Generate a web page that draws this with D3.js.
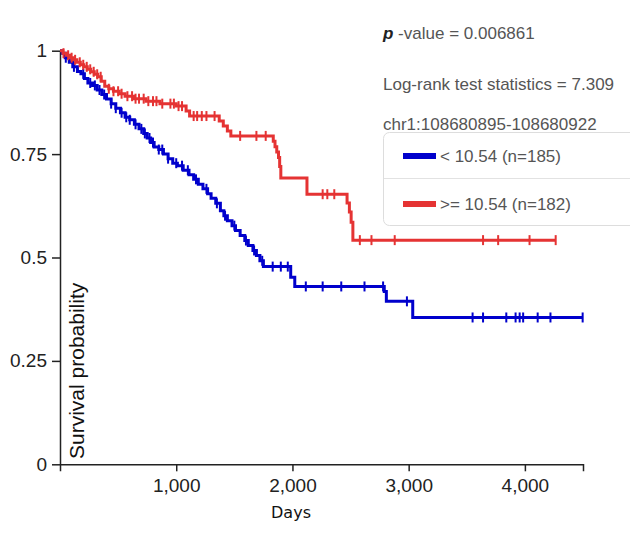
<!DOCTYPE html>
<html>
<head>
<meta charset="utf-8">
<script src="https://cdn.jsdelivr.net/npm/d3@7"></script>
<style>
  html, body { margin: 0; padding: 0; background: #fff; }
  svg { display: block; }
</style>
</head>
<body>
<svg id="chart" width="630" height="552"></svg>
<script>
// ---- data ----
const xTicks = [1000, 2000, 3000, 4000];
const yTicks = [0, 0.25, 0.5, 0.75, 1];

const lowLabel = "< 10.54 (n=185)";
const highLabel = ">= 10.54 (n=182)";

// [days, survival] step points, group "< 10.54"
const lowSteps = [
  [0, 1], [20, .994], [45, .983], [80, .972], [110, .961], [150, .95], [180, .944],
  [210, .933], [240, .922], [280, .916], [320, .905], [360, .894], [400, .883],
  [440, .872], [480, .861], [520, .85], [560, .839], [600, .833], [640, .822],
  [680, .811], [720, .8], [750, .789], [780, .778], [810, .767], [850, .761],
  [890, .75], [930, .739], [970, .728], [1010, .722], [1060, .711], [1110, .70],
  [1150, .689], [1190, .677], [1230, .666], [1270, .654], [1300, .643], [1340, .631],
  [1380, .613], [1410, .601], [1440, .589], [1480, .577], [1510, .565], [1550, .553],
  [1590, .541], [1620, .529], [1660, .517], [1690, .505], [1720, .492], [1750, .478],
  [1985, .452], [2020, .43], [2790, .418], [2808, .394], [3035, .355]
];
const lowEnd = 4497;
const lowCensor = [50, 120, 200, 260, 300, 340, 380, 440, 480, 530, 570, 600, 650, 700,
  730, 770, 800, 850, 880, 930, 1000, 1050, 1100, 1170, 1260, 1350, 1420, 1500, 1600,
  1670, 1740, 1830, 1900, 1960, 2115, 2260, 2420, 2620, 2780, 2985, 3550, 3640, 3840,
  3920, 3955, 3985, 4110, 4220, 4497];

// group ">= 10.54"
const highSteps = [
  [0, 1], [25, .994], [55, .989], [85, .983], [115, .978], [145, .972], [175, .966],
  [205, .961], [235, .955], [265, .949], [295, .943], [325, .937], [355, .926],
  [385, .914], [420, .908], [460, .902], [510, .896], [560, .89], [640, .884],
  [740, .878], [860, .872], [1000, .866], [1085, .854], [1115, .842], [1370, .83],
  [1405, .818], [1440, .806], [1470, .794], [1835, .781], [1850, .768], [1865, .755],
  [1880, .742], [1890, .72], [1900, .692], [2125, .653], [2470, .632], [2490, .61],
  [2505, .585], [2520, .542]
];
const highEnd = 4265;
const highCensor = [30, 70, 100, 130, 170, 200, 230, 260, 290, 320, 350, 420, 460, 500,
  530, 580, 620, 650, 680, 720, 760, 800, 830, 880, 950, 980, 1020, 1050, 1150, 1180,
  1220, 1260, 1330, 1550, 1690, 1770, 2260, 2300, 2360, 2580, 2680, 2880, 3640, 3770,
  4040, 4265];

const pText = "-value = 0.006861";
const logRankText = "Log-rank test statistics = 7.309";
const regionText = "chr1:108680895-108680922";

// ---- drawing ----
const BLUE = "#0000cc";
const RED = "#e53333";
const svg = d3.select("#chart");
const x = d3.scaleLinear().domain([0, 4500]).range([60, 583]);
const y = d3.scaleLinear().domain([0, 1]).range([464.3, 50.7]);

const font = "'Liberation Sans', Arial, sans-serif";

// axes
const xAxis = d3.axisBottom(x).tickValues(xTicks).tickFormat(d3.format(","))
  .tickSize(7).tickSizeOuter(7).tickPadding(7);
const yAxis = d3.axisLeft(y).tickValues(yTicks).tickFormat(d => String(d))
  .tickSize(8).tickSizeOuter(0).tickPadding(5);

const gx = svg.append("g").attr("transform", `translate(0,${y(0)})`).call(xAxis);
const gy = svg.append("g").attr("transform", `translate(${x(0)},0)`).call(yAxis);
[gx, gy].forEach(g => {
  g.select(".domain").attr("stroke", "#222").attr("stroke-width", 1.5);
  g.selectAll(".tick line").attr("stroke", "#222").attr("stroke-width", 1.5);
  g.selectAll(".tick text").attr("fill", "#222").style("font-family", font).style("font-size", "19px");
});

// curves
function survAt(steps, t) {
  let s = steps[0][1];
  for (const p of steps) { if (p[0] <= t) s = p[1]; }
  return s;
}
const line = d3.line().x(d => x(d[0])).y(d => y(d[1])).curve(d3.curveStepAfter);

function drawGroup(steps, end, censor, color) {
  const pts = steps.concat([[end, steps[steps.length - 1][1]]]);
  svg.append("path").datum(pts).attr("d", line)
    .attr("fill", "none").attr("stroke", color).attr("stroke-width", 3);
  svg.append("g").selectAll("line").data(censor).join("line")
    .attr("x1", d => x(d)).attr("x2", d => x(d))
    .attr("y1", d => y(survAt(steps, d)) - 5).attr("y2", d => y(survAt(steps, d)) + 5)
    .attr("stroke", color).attr("stroke-width", 2);
}
drawGroup(lowSteps, lowEnd, lowCensor, BLUE);
drawGroup(highSteps, highEnd, highCensor, RED);

// axis titles
svg.append("text").attr("transform", "translate(84,459) rotate(-90)")
  .attr("text-anchor", "start").style("font-family", font).style("font-size", "21px")
  .attr("fill", "#111").text("Survival probability");
svg.append("text").attr("x", 291).attr("y", 518).attr("text-anchor", "middle")
  .style("font-family", "'DejaVu Sans', Verdana, sans-serif").style("font-size", "16px")
  .attr("fill", "#111").text("Days");

// stats text
const t1 = svg.append("text").attr("x", 383).attr("y", 39)
  .style("font-family", font).style("font-size", "17px").attr("fill", "#555");
t1.append("tspan").attr("font-weight", "bold").attr("font-style", "italic").attr("fill", "#222").text("p");
t1.append("tspan").text(" " + pText);
svg.append("text").attr("x", 383).attr("y", 90).style("font-family", font)
  .style("font-size", "17px").attr("fill", "#555").text(logRankText);
svg.append("text").attr("x", 383).attr("y", 130).style("font-family", font)
  .style("font-size", "17px").attr("fill", "#555").text(regionText);

// legend
const lg = svg.append("g");
lg.append("rect").attr("x", 383.5).attr("y", 132.5).attr("width", 270).attr("height", 93)
  .attr("rx", 6).attr("fill", "#fff").attr("stroke", "#ddd");
lg.append("line").attr("x1", 384).attr("x2", 640).attr("y1", 178.5).attr("y2", 178.5)
  .attr("stroke", "#e2e2e2");
const items = [{ label: lowLabel, color: BLUE, cy: 156 }, { label: highLabel, color: RED, cy: 204 }];
items.forEach(it => {
  lg.append("rect").attr("x", 403).attr("y", it.cy - 3).attr("width", 33).attr("height", 6)
    .attr("fill", it.color);
  lg.append("text").attr("x", 440).attr("y", it.cy + 6).style("font-family", font)
    .style("font-size", "17px").attr("fill", "#555").text(it.label);
});
</script>
</body>
</html>
